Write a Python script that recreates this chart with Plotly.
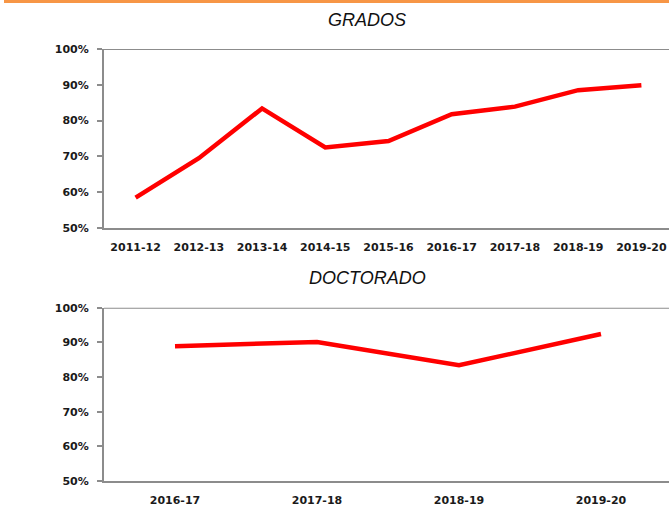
import plotly.graph_objects as go

grados_cats = ["2011-12", "2012-13", "2013-14", "2014-15", "2015-16",
               "2016-17", "2017-18", "2018-19", "2019-20"]
grados_vals = [0.585, 0.695, 0.834, 0.725, 0.743, 0.818, 0.839, 0.885, 0.899]

doct_cats = ["2016-17", "2017-18", "2018-19", "2019-20"]
doct_vals = [0.889, 0.901, 0.834, 0.924]

y_ticks = [0.5, 0.6, 0.7, 0.8, 0.9, 1.0]
y_labels = ["50%", "60%", "70%", "80%", "90%", "100%"]

W, H = 669, 506
RED = "#ff0000"
GRAY = "#8c8c8c"
tickfont = dict(family="DejaVu Sans", size=11, color="#1a1a1a", weight="bold")

fig = go.Figure()
fig.add_trace(go.Scatter(x=list(range(len(grados_cats))), y=grados_vals, mode="lines",
                         line=dict(color=RED, width=4.5), xaxis="x", yaxis="y",
                         showlegend=False, hoverinfo="skip"))
fig.add_trace(go.Scatter(x=list(range(len(doct_cats))), y=doct_vals, mode="lines",
                         line=dict(color=RED, width=4.5), xaxis="x2", yaxis="y2",
                         showlegend=False, hoverinfo="skip"))

xl = 104 / W
top_dom = [1 - 228 / H, 1 - 49 / H]
bot_dom = [1 - 481 / H, 1 - 307.7 / H]

common_x = dict(showgrid=False, zeroline=False, showline=True, linecolor=GRAY, linewidth=2,
                ticks="", tickfont=tickfont, fixedrange=True, ticklabelstandoff=8,
                automargin=False)
common_y = dict(showgrid=False, zeroline=False, showline=True, linecolor=GRAY, linewidth=2,
                ticks="outside", ticklen=5, tickcolor=GRAY, tickwidth=2,
                tickvals=y_ticks, ticktext=y_labels, tickfont=tickfont, range=[0.5, 1.0],
                fixedrange=True, ticklabelstandoff=6, automargin=False)

fig.update_layout(
    width=W, height=H, margin=dict(l=0, r=0, t=0, b=0, autoexpand=False),
    paper_bgcolor="white", plot_bgcolor="white",
    xaxis=dict(common_x, domain=[xl, 1], anchor="y",
               tickvals=list(range(len(grados_cats))), ticktext=grados_cats,
               range=[-0.5, 8.5 - 4 / 63.25]),
    yaxis=dict(common_y, domain=top_dom, anchor="x"),
    xaxis2=dict(common_x, domain=[xl, 1], anchor="y2",
                tickvals=list(range(len(doct_cats))), ticktext=doct_cats,
                range=[-0.5, 3.5 - 3 / 142]),
    yaxis2=dict(common_y, domain=bot_dom, anchor="x2"),
    annotations=[
        dict(text="<i>GRADOS</i>", x=367 / W, y=1 - 20 / H, xref="paper", yref="paper",
             showarrow=False, font=dict(family="Liberation Sans", size=18, color="#111111"),
             xanchor="center", yanchor="middle"),
        dict(text="<i>DOCTORADO</i>", x=367 / W, y=1 - 278 / H, xref="paper", yref="paper",
             showarrow=False, font=dict(family="Liberation Sans", size=18, color="#111111"),
             xanchor="center", yanchor="middle"),
    ],
    shapes=[
        dict(type="rect", xref="paper", yref="paper", x0=4 / W, x1=1, y0=1 - 3 / H, y1=1,
             fillcolor="#f79646", line=dict(width=0)),
        dict(type="line", xref="x domain", yref="y", x0=0, x1=1, y0=1.0, y1=1.0,
             line=dict(color=GRAY, width=2)),
        dict(type="line", xref="x2 domain", yref="y2", x0=0, x1=1, y0=1.0, y1=1.0,
             line=dict(color=GRAY, width=2)),
    ],
)

fig.write_html("out.html", config={"displayModeBar": False},
               post_script="document.body.style.margin='0';")
